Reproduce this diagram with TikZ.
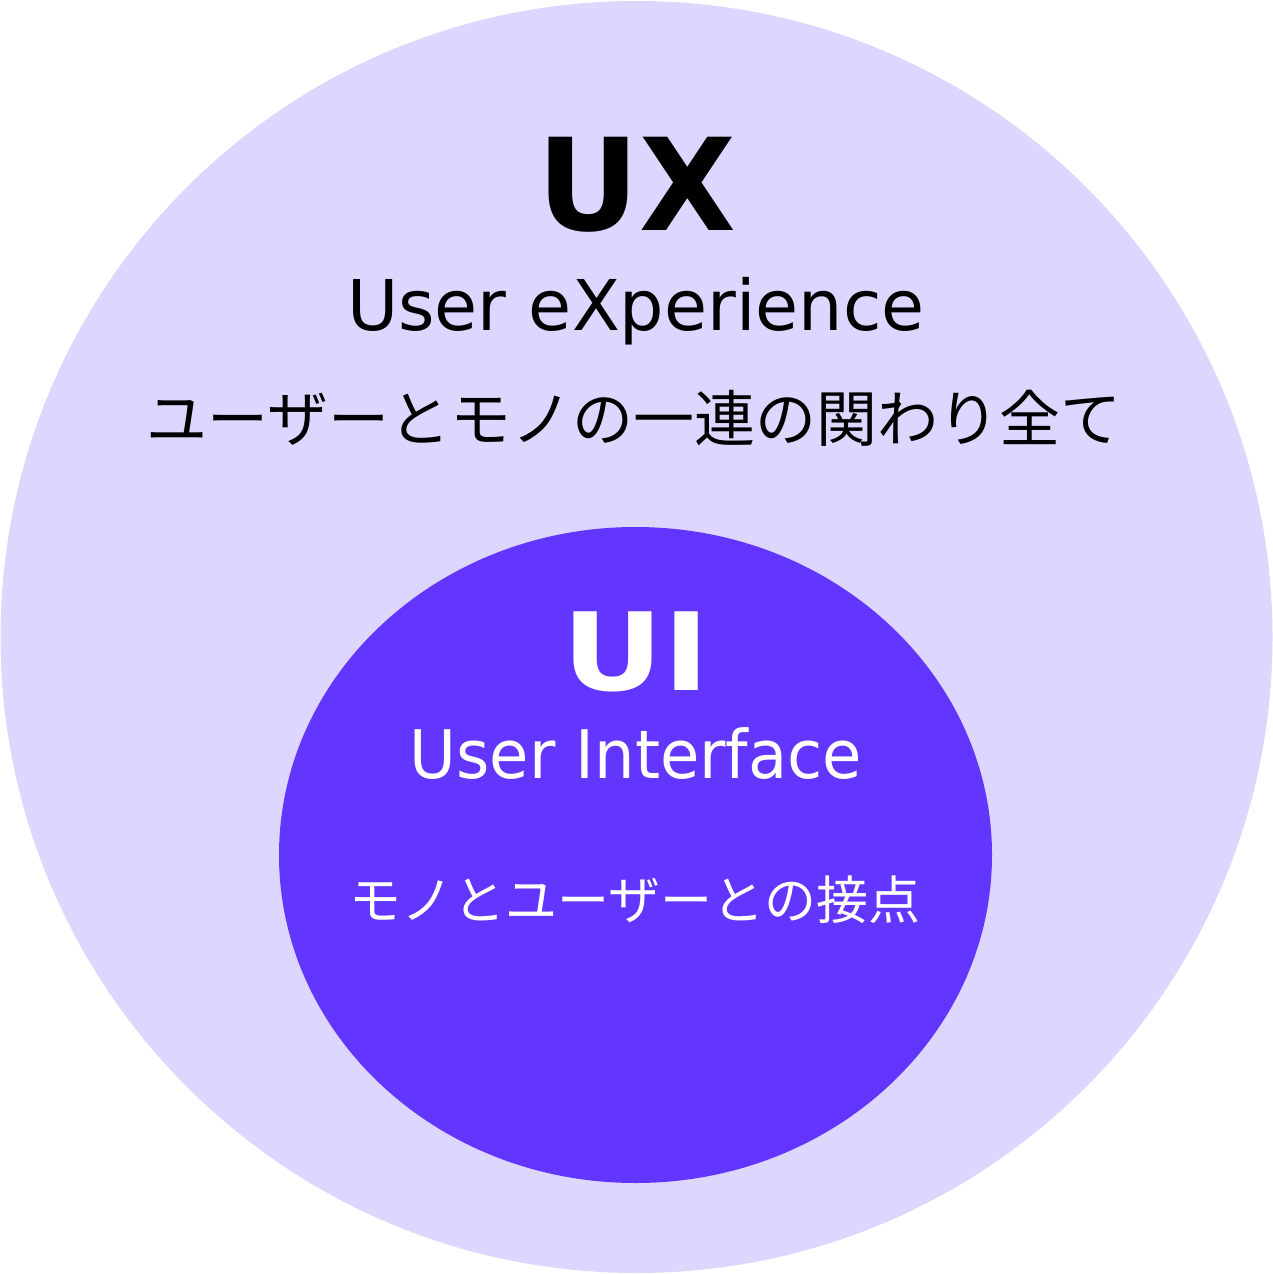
\documentclass[tikz,border=0pt]{standalone}
\usepackage{fontspec}
\setmainfont{DejaVu Sans}
\newfontfamily\jpfont{Noto Sans CJK JP}
\definecolor{uxfill}{HTML}{DDD6FF}
\definecolor{uifill}{HTML}{6236FF}
\begin{document}
\begin{tikzpicture}[x=1pt,y=-1pt,
  lat/.style={inner sep=0pt,anchor=base},
  jp/.style={inner sep=0pt,font=\jpfont}]
\useasboundingbox (0,0) rectangle (1273,1274);
\fill[uxfill] (636.5,637) circle[radius=636];
\fill[uifill] (635.5,855) ellipse[x radius=356.5,y radius=328];
\node[lat,font=\fontsize{128}{128}\selectfont\bfseries,xscale=0.98] (ux) at (637,230) {UX};
\node[lat,font=\fontsize{70}{70}\selectfont] (uxen) at (636,330) {User eXperience};
\node[jp,font=\jpfont\fontsize{61}{61}\selectfont] (uxjp) at (634,418) {ユーザーとモノの一連の関わり全て};
\node[lat,font=\fontsize{108}{108}\selectfont\bfseries,xscale=1.15,text=white] (ui) at (636,690) {UI};
\node[lat,font=\fontsize{67}{67}\selectfont,xscale=0.955,text=white] (uien) at (636,778) {User Interface};
\node[jp,font=\jpfont\fontsize{52}{52}\selectfont,text=white] (uijp) at (635,900) {モノとユーザーとの接点};
\end{tikzpicture}
\end{document}
